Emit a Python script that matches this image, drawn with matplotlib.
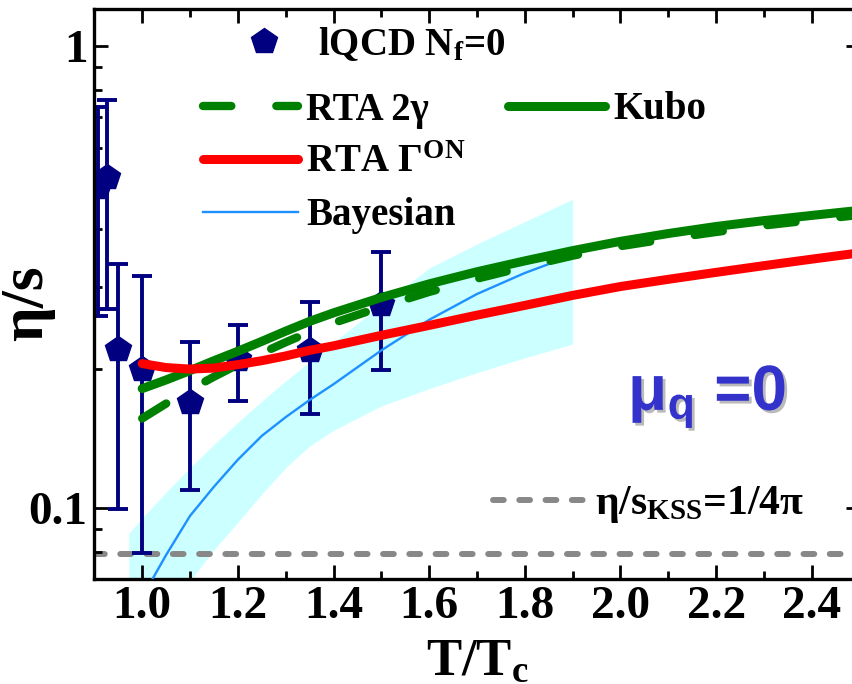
import numpy as np
import matplotlib.pyplot as plt
import matplotlib.patheffects as pe
from matplotlib.lines import Line2D
from matplotlib.ticker import MultipleLocator, NullFormatter, FixedLocator

plt.rcParams['font.family'] = ['Liberation Serif', 'DejaVu Serif']
plt.rcParams['font.weight'] = 'bold'
plt.rcParams['axes.labelweight'] = 'bold'
plt.rcParams['mathtext.fontset'] = 'custom'
plt.rcParams['mathtext.rm'] = 'Liberation Serif:bold'
plt.rcParams['mathtext.bf'] = 'Liberation Serif:bold'
plt.rcParams['mathtext.it'] = 'Liberation Serif:bold:italic'
plt.rcParams['mathtext.sf'] = 'Liberation Sans:bold'
plt.rcParams['mathtext.default'] = 'rm'

# lattice QCD N_f = 0 points with error ranges
T_lat = [0.907, 0.926, 0.95, 1.0, 1.1, 1.2, 1.35, 1.5]
eta_lat = [0.494, 0.519, 0.221, 0.200, 0.169, 0.210, 0.219, 0.276]
eta_lat_hi = [0.735, 0.764, 0.337, 0.318, 0.228, 0.249, 0.278, 0.357]
eta_lat_lo = [0.260, 0.269, 0.0995, 0.0796, 0.109, 0.170, 0.1595, 0.199]

# model curves
T_curve = [1.0, 1.05, 1.1, 1.15, 1.2, 1.25, 1.3, 1.35, 1.4, 1.5,
           1.6, 1.7, 1.8, 1.9, 2.0, 2.1, 2.2, 2.3, 2.4, 2.5]
eta_kubo = [0.181, 0.189, 0.198, 0.208, 0.218, 0.229, 0.241, 0.253, 0.264, 0.285,
            0.305, 0.324, 0.342, 0.360, 0.377, 0.392, 0.406, 0.418, 0.429, 0.440]
eta_rta2g = [0.156, 0.168, 0.180, 0.192, 0.204, 0.216, 0.228, 0.240, 0.251, 0.272,
             0.293, 0.313, 0.332, 0.351, 0.368, 0.382, 0.395, 0.408, 0.419, 0.430]
eta_rtaon = [0.205, 0.201, 0.1995, 0.2005, 0.204, 0.208, 0.213, 0.219, 0.224, 0.236,
             0.248, 0.261, 0.274, 0.288, 0.301, 0.312, 0.323, 0.334, 0.345, 0.356]

# Bayesian estimate and its band
T_bayes = [1.0, 1.05, 1.1, 1.15, 1.2, 1.25, 1.3, 1.35, 1.4, 1.5, 1.6, 1.7, 1.8, 1.9]
eta_bayes = [0.064, 0.079, 0.096, 0.111, 0.127, 0.143, 0.157, 0.171, 0.185, 0.219,
             0.255, 0.290, 0.322, 0.352]
T_band = [0.972, 1.0, 1.05, 1.1, 1.15, 1.2, 1.25, 1.3, 1.35, 1.4, 1.5, 1.6, 1.7, 1.8, 1.9]
band_hi = [0.088, 0.095, 0.108, 0.122, 0.137, 0.153, 0.170, 0.188, 0.207, 0.228,
           0.275, 0.330, 0.372, 0.416, 0.465]
band_lo = [0.05, 0.05, 0.059, 0.0695, 0.081, 0.093, 0.107, 0.122, 0.136, 0.147,
           0.166, 0.181, 0.196, 0.211, 0.226]

kss = 1 / (4 * np.pi)

x_major = [1.0, 1.2, 1.4, 1.6, 1.8, 2.0, 2.2, 2.4]
x_labels = ['1.0', '1.2', '1.4', '1.6', '1.8', '2.0', '2.2', '2.4']

fig = plt.figure(figsize=(8.53, 6.84), dpi=100)
ax = fig.add_axes([0.1106, 0.1531, 0.8972, 0.8338])


def ax_x(px):
    return (px - 94.3) / 765.3


def ax_y(py):
    return (579.3 - py) / 570.3


ax.fill_between(T_band, band_lo, band_hi, color='#ccffff', lw=0, zorder=1)
l_kss = ax.axhline(kss, color='#888888', lw=4.3, dashes=(1.8, 2.6),
                   dash_capstyle='round', zorder=1.5, label='η/s$_\\mathrm{KSS}$=1/4π')

yerr = [np.array(eta_lat) - np.array(eta_lat_lo), np.array(eta_lat_hi) - np.array(eta_lat)]
ax.errorbar(T_lat, eta_lat, yerr=yerr, fmt='p', color='#000080', ms=19,
            elinewidth=2.8, capsize=7, capthick=2.8, zorder=2)

l_bay, = ax.plot(T_bayes, eta_bayes, color='#1e90ff', lw=1.7, zorder=3, label='Bayesian')
l_kubo, = ax.plot(T_curve, eta_kubo, color='#008000', lw=6.5, zorder=3,
                  solid_capstyle='round', label='Kubo')
l_2g, = ax.plot(T_curve, eta_rta2g, color='#008000', lw=6, dashes=(3.4, 5.4),
                dash_capstyle='round', zorder=3, label='RTA 2γ')
l_on, = ax.plot(T_curve, eta_rtaon, color='#ff0000', lw=6.5, zorder=3,
                solid_capstyle='round', label='RTA Γ$^\\mathrm{ON}$')

ax.set_xlim(0.9, 2.5)
ax.set_yscale('log')
ax.set_ylim(0.07, 1.2)

ax.xaxis.set_major_locator(FixedLocator(x_major))
ax.set_xticklabels(x_labels)
ax.xaxis.set_minor_locator(MultipleLocator(0.1))
ax.yaxis.set_major_locator(FixedLocator([0.1, 1]))
ax.set_yticklabels(['0.1', '1'])
ax.yaxis.set_minor_formatter(NullFormatter())
ax.tick_params(which='both', direction='in', top=True, right=True, width=2,
               labelsize=34, pad=5)
ax.tick_params(which='major', length=10)
ax.tick_params(which='minor', length=6)
for s in ax.spines.values():
    s.set_linewidth(2.4)

ax.set_xlabel('T/T$_\\mathrm{c}$', fontsize=38)
ax.xaxis.set_label_coords(0.5, ax_y(638))
ax.set_ylabel('η/s', fontsize=44)
ax.yaxis.set_label_coords(ax_x(55), ax_y(303))

leg_kw = dict(frameon=False, borderpad=0, borderaxespad=0, loc='center left')
h_lat = Line2D([], [], ls='none', marker='p', ms=19, color='#000080')
leg1 = ax.legend([h_lat], ['lQCD N$_\\mathrm{f}$=0'], fontsize=28, handlelength=2.4,
                 handletextpad=0.2, bbox_to_anchor=(ax_x(217), ax_y(45)), **leg_kw)
ax.add_artist(leg1)
leg2 = ax.legend([l_2g, l_on, l_bay], ['RTA 2γ', 'RTA Γ$^\\mathrm{ON}$', 'Bayesian'],
                 fontsize=28, handlelength=2.45, handletextpad=0.2, labelspacing=0.41,
                 bbox_to_anchor=(ax_x(203), ax_y(163)), **leg_kw)
ax.add_artist(leg2)
leg3 = ax.legend([l_kubo], ['Kubo'], fontsize=28, handlelength=2.5, handletextpad=0.2,
                 bbox_to_anchor=(ax_x(508), ax_y(110)), **leg_kw)
ax.add_artist(leg3)
ax.legend([l_kss], [l_kss.get_label()], fontsize=30, handlelength=2.3, handletextpad=0.15,
          bbox_to_anchor=(ax_x(493), ax_y(505)), **leg_kw)

ax.text(ax_x(628), ax_y(410), 'μ$_\\mathsf{q}$ =0', transform=ax.transAxes,
        fontsize=46, family='Liberation Sans', weight='bold', color='#3333cc',
        ha='left', va='baseline',
        path_effects=[pe.withSimplePatchShadow(offset=(2, -2), shadow_rgbFace='#777777', alpha=0.5)])

fig.savefig('out.png', dpi=100)
